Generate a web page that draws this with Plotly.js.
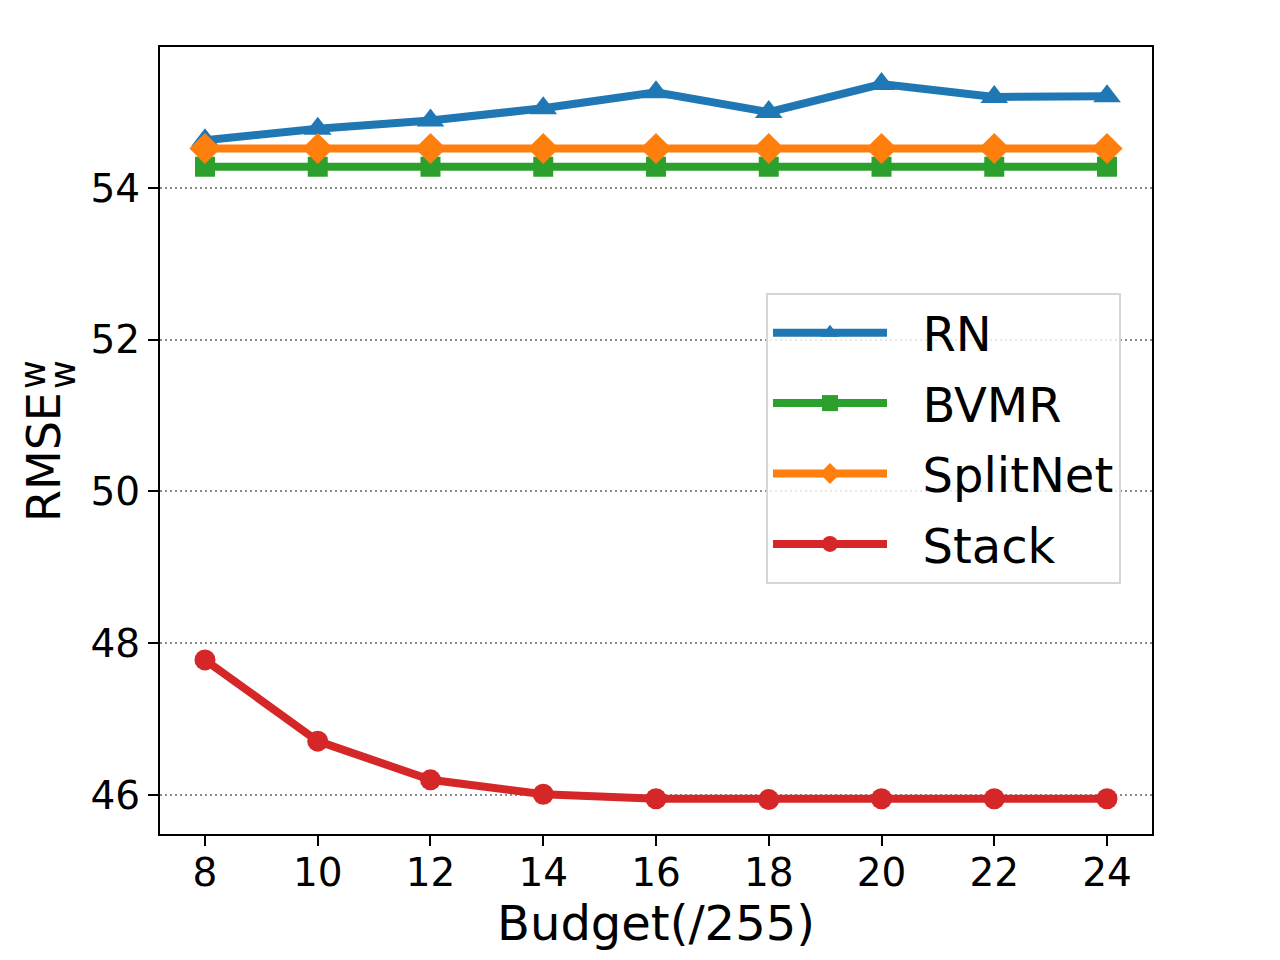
<!DOCTYPE html>
<html>
<head>
<meta charset="utf-8">
<script src="https://cdn.plot.ly/plotly-3.0.1.min.js"></script>
<style>html,body{margin:0;padding:0;background:#fff;}#chart{width:1280px;height:960px;}</style>
</head>
<body>
<div id="chart"></div>
<script>
const budgets = [8, 10, 12, 14, 16, 18, 20, 22, 24];
const rnValues = [54.63, 54.78, 54.89, 55.05, 55.26, 55.00, 55.37, 55.20, 55.21];
const bvmrValues = [54.28, 54.28, 54.28, 54.28, 54.28, 54.28, 54.28, 54.28, 54.28];
const splitnetValues = [54.52, 54.52, 54.52, 54.52, 54.52, 54.52, 54.52, 54.52, 54.52];
const stackValues = [47.78, 46.71, 46.20, 46.01, 45.95, 45.94, 45.95, 45.95, 45.95];
const seriesNames = ['RN', 'BVMR', 'SplitNet', 'Stack'];
const xTicks = [8, 10, 12, 14, 16, 18, 20, 22, 24];
const yTicks = [46, 48, 50, 52, 54];

const FONT = 'DejaVu Sans, sans-serif';
const PAD = '\u00a0\u00a0';
function series(name, y, color, symbol, size, group) {
  return {
    x: budgets, y: y, name: PAD + name, type: 'scatter', mode: 'lines+markers',
    legendgroup: group,
    line: {color: color, width: 8},
    marker: {color: color, symbol: symbol, size: size, line: {width: 0}}
  };
}
const data = [
  series(seriesNames[0], rnValues, '#1f77b4', 'triangle-up', 24, 'a'),
  series(seriesNames[1], bvmrValues, '#2ca02c', 'square', 20, 'b'),
  series(seriesNames[2], splitnetValues, '#ff7f0e', 'diamond', 24, 'c'),
  series(seriesNames[3], stackValues, '#d62728', 'circle', 21, 'd')
];

const L = 160, R = 128, T = 47, B = 126;
const PW = 1280 - L - R, PH = 960 - T - B;
function px(x) { return (x - L) / PW; }
function py(y) { return (960 - B - y) / PH; }

const layout = {
  width: 1280, height: 960,
  margin: {l: L, r: R, t: T, b: B, pad: 0},
  paper_bgcolor: '#fff', plot_bgcolor: '#fff',
  font: {family: FONT, color: '#000', size: 39},
  showlegend: true,
  legend: {
    x: px(766), y: py(293), xanchor: 'left', yanchor: 'top',
    bgcolor: 'rgba(255,255,255,0.8)', bordercolor: '#d6d6d6', borderwidth: 2,
    font: {family: FONT, size: 48, color: '#000'},
    itemwidth: 114, tracegroupgap: 5
  },
  xaxis: {
    range: [7.202, 24.798], tickvals: xTicks, ticktext: xTicks.map(String),
    showgrid: false, zeroline: false,
    showline: true, linecolor: '#000', linewidth: 2, mirror: true,
    ticks: 'outside', ticklen: 10, tickwidth: 2, tickcolor: '#000',
    ticklabelstandoff: -7,
    tickfont: {family: FONT, size: 39, color: '#000'},
    title: {text: 'Budget(/255)', font: {family: FONT, size: 48, color: '#000'}, standoff: 6}
  },
  yaxis: {
    range: [45.486, 55.858], tickvals: yTicks, ticktext: yTicks.map(String),
    showgrid: true, gridcolor: '#8a8a8a', gridwidth: 2, griddash: '2px,3px',
    zeroline: false,
    showline: true, linecolor: '#000', linewidth: 2, mirror: true,
    ticks: 'outside', ticklen: 10, tickwidth: 2, tickcolor: '#000',
    tickfont: {family: FONT, size: 39, color: '#000'}
  },
  annotations: [
    {text: 'RMSE', xref: 'paper', yref: 'paper', x: px(44), y: py(457),
     xanchor: 'center', yanchor: 'middle', textangle: -90, showarrow: false,
     font: {family: FONT, size: 46, color: '#000'}},
    {text: 'w', xref: 'paper', yref: 'paper', x: px(33), y: py(375),
     xanchor: 'center', yanchor: 'middle', textangle: -90, showarrow: false,
     font: {family: FONT, size: 35, color: '#000'}},
    {text: 'w', xref: 'paper', yref: 'paper', x: px(63), y: py(375),
     xanchor: 'center', yanchor: 'middle', textangle: -90, showarrow: false,
     font: {family: FONT, size: 35, color: '#000'}}
  ]
};

Plotly.newPlot('chart', data, layout, {staticPlot: true, displayModeBar: false});
</script>
</body>
</html>
